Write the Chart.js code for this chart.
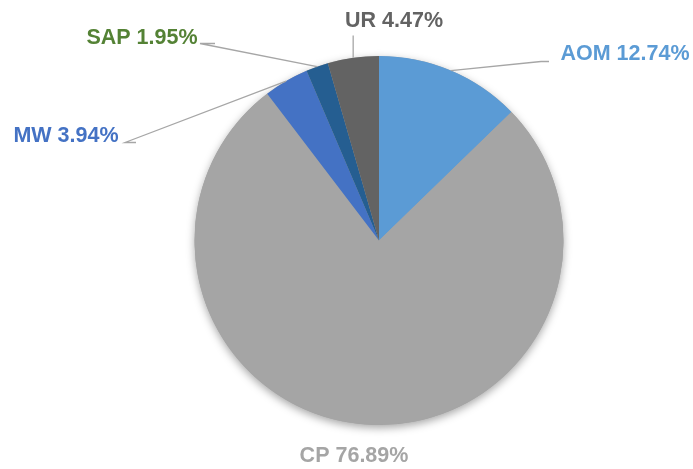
<!DOCTYPE html>
<html>
<head>
<meta charset="utf-8">
<script src="https://cdn.jsdelivr.net/npm/chart.js@4/dist/chart.umd.min.js"></script>
<style>
html,body{margin:0;padding:0;background:#fff;}
#wrap{width:693px;height:469px;position:relative;}
</style>
</head>
<body>
<div id="wrap"><canvas id="c" width="693" height="469"></canvas></div>
<script>
const categories = ["AOM", "CP", "MW", "SAP", "UR"];
const percentages = [12.74, 76.89, 3.94, 1.95, 4.47];
const sliceColors = ["#5B9BD5", "#A5A5A5", "#4472C4", "#255E91", "#636363"];
const labelColors = ["#5B9BD5", "#A5A5A5", "#4472C4", "#548235", "#636363"];

// label layout: text centre relative to pie centre, and leader elbow (null = no leader)
const labelLayout = [
  {tx: 246, ty: -187, elbow: [170, -179], bend: [162, -179]},
  {tx: -25, ty: 215, elbow: null},
  {tx: -313, ty: -105, elbow: [-243, -98], bend: [-254, -98]},
  {tx: -237, ty: -203, elbow: [-164, -197], bend: [-179, -197]},
  {tx: 15, ty: -220, elbow: [-26, -205], bend: null}
];

const labelPlugin = {
  id: 'pieLabels',
  beforeDatasetsDraw(chart) {
    const meta = chart.getDatasetMeta(0);
    const arc = meta.data[0];
    const ctx = chart.ctx;
    ctx.save();
    ctx.beginPath();
    ctx.arc(arc.x, arc.y, arc.outerRadius, 0, Math.PI * 2);
    ctx.fillStyle = '#A5A5A5';
    ctx.shadowColor = 'rgba(0,0,0,0.35)';
    ctx.shadowBlur = 9;
    ctx.shadowOffsetY = 3;
    ctx.fill();
    ctx.restore();
  },
  afterDatasetsDraw(chart) {
    const meta = chart.getDatasetMeta(0);
    const ctx = chart.ctx;
    ctx.save();
    meta.data.forEach((a, i) => {
      const L = labelLayout[i];
      const cx = a.x, cy = a.y, r = a.outerRadius;
      const mid = (a.startAngle + a.endAngle) / 2;
      const ex = cx + Math.cos(mid) * r, ey = cy + Math.sin(mid) * r;
      if (L.elbow) {
        ctx.beginPath();
        ctx.strokeStyle = '#A6A6A6';
        ctx.lineWidth = 1.3;
        ctx.moveTo(ex, ey);
        if (L.bend) {
          ctx.lineTo(cx + L.bend[0], cy + L.bend[1]);
          ctx.lineTo(cx + L.elbow[0], cy + L.elbow[1]);
        } else {
          ctx.lineTo(ex, cy + L.elbow[1]);
        }
        ctx.stroke();
      }
      const text = categories[i] + ' ' + percentages[i].toFixed(2) + '%';
      ctx.font = 'bold 21.5px "Liberation Sans", Arial, sans-serif';
      ctx.fillStyle = labelColors[i];
      ctx.textAlign = 'center';
      ctx.textBaseline = 'middle';
      ctx.fillText(text, cx + L.tx, cy + L.ty + 1);
    });
    ctx.restore();
  }
};

new Chart(document.getElementById('c'), {
  type: 'pie',
  data: {
    labels: categories,
    datasets: [{
      data: percentages,
      backgroundColor: sliceColors,
      borderWidth: 0,
      hoverOffset: 0
    }]
  },
  options: {
    responsive: false,
    animation: false,
    layout: {padding: {top: 56, bottom: 44, left: 194.5, right: 129.5}},
    plugins: {legend: {display: false}, tooltip: {enabled: false}}
  },
  plugins: [labelPlugin]
});
</script>
</body>
</html>
